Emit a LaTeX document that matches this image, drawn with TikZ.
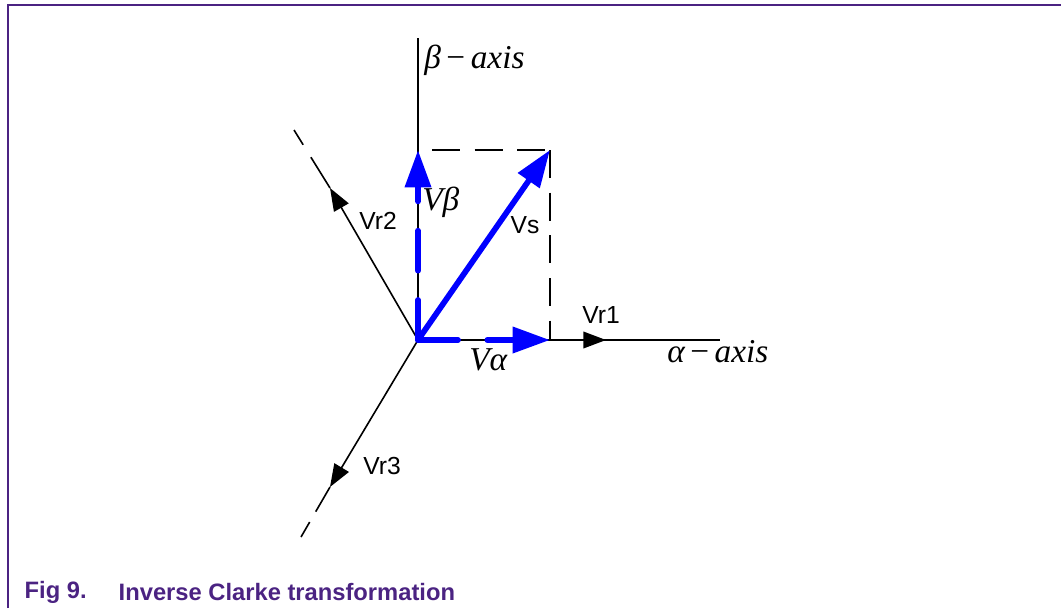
\documentclass[tikz,border=0pt]{standalone}
\usepackage{amsmath}
\usepackage{fontspec}
\setsansfont{Liberation Sans}
\newfontfamily\tms{Liberation Serif}
\usepackage{tikz}
\usetikzlibrary{arrows.meta}
\definecolor{figpurple}{RGB}{75,35,130}
\newcommand{\lbl}[1]{\sffamily\fontsize{18.5}{20}\selectfont #1}
\newcommand{\mlbl}[1]{\tms\fontsize{25}{28}\selectfont #1}

\begin{document}
\begin{tikzpicture}[x=0.75pt,y=-0.75pt,
    blueline/.style={blue,line width=4.3pt},
    bluehead/.style={-{Triangle[length=28pt,width=19pt]}},
    blackhead/.style={-{Triangle[length=17pt,width=12.5pt]}},
    dashblk/.style={black,line width=1.2pt,dash pattern=on 21pt off 11pt},
    dashblue/.style={blueline,line cap=round,dash pattern=on 30pt off 22pt}]
    \useasboundingbox (0,0) rectangle (1061,608);
    \draw[figpurple,line width=1.2pt] (8,608) -- (8,5) -- (1061,5);
    
    \coordinate (O) at (418,340);
    \coordinate (btop) at (418,38);
    \coordinate (aend) at (720,340);
    \coordinate (vb) at (418,150);
    \coordinate (va) at (550,340);
    \coordinate (vs) at (550,150);
    \coordinate (rtl) at (432,150);
    \coordinate (r1) at (606,340);
    \coordinate (r2) at (330,188);
    \coordinate (r2e) at (294,130);
    \coordinate (r3) at (330,487);
    \coordinate (r3e) at (301,537);
    
    \node[anchor=west,inner sep=0pt] (bax) at (424,60) {\mlbl{\itshape β\,\upshape−\,\itshape axis}};
    \node[anchor=west,inner sep=0pt] (aax) at (667,352) {\mlbl{\itshape α\,\upshape−\,\itshape axis}};
    \node[anchor=west,inner sep=0pt] (lvb) at (422,202) {\mlbl{\itshape Vβ}};
    \node[anchor=west,inner sep=0pt] (lva) at (469,360) {\mlbl{\itshape Vα}};
    \node (lvs) at (525,225) {\lbl{Vs}};
    \node (lr1) at (601,315) {\lbl{Vr1}};
    \node (lr2) at (378,221) {\lbl{Vr2}};
    \node (lr3) at (382,466) {\lbl{Vr3}};
    
    \node[anchor=west,text=figpurple] (fig) at (20,592) {\sffamily\bfseries\fontsize{17.8}{19}\selectfont Fig 9.};
    \node[anchor=west,text=figpurple] (cap) at (114,592) {\sffamily\bfseries\fontsize{17.8}{19}\selectfont Inverse Clarke transformation};
    
    \path[line width=1.2pt]
    (O) edge (btop)
    (O) edge (aend)
    (rtl) edge [dashblk] (vs)
    (vs) edge [dashblk] (va)
    (O) edge [blackhead] (r1)
    (O) edge [blackhead] (r2)
    (O) edge [blackhead] (r3)
    (r2e) edge [dashblk,dash pattern=on 13pt off 11pt on 40pt off 10pt] (r2)
    (r3e) edge [dashblk,dash pattern=on 13pt off 9pt on 40pt off 10pt] (r3)
    ;
    \draw[dashblue,bluehead] (O) -- (vb);
    \draw[blueline,bluehead] (O) -- (vs);
    \draw[dashblue,bluehead] (O) -- (va);
\end{tikzpicture}
\end{document}
